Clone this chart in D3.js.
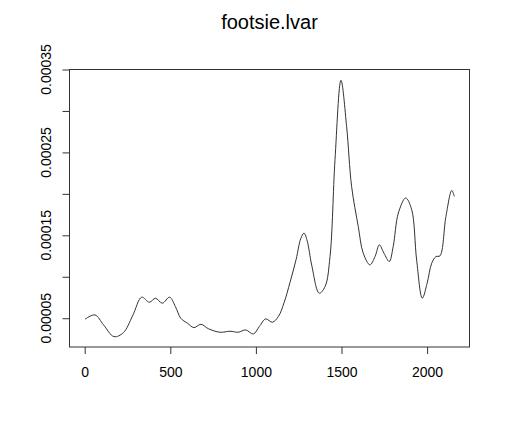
<!DOCTYPE html>
<html>
<head>
<meta charset="utf-8">
<script src="https://cdn.jsdelivr.net/npm/d3@7"></script>
<style>
  body { margin: 0; background: #fff; }
  text { font-family: "Liberation Sans", Arial, sans-serif; }
</style>
</head>
<body>
<svg id="chart" width="505" height="433"></svg>
<script>
const title = 'footsie.lvar'

// index along the series and the local variance
const idx = [2, 60, 110, 171, 226, 280, 333, 377, 414, 453, 496, 530, 561, 600, 638, 679, 722, 790, 849, 897, 940, 985, 1020, 1057, 1096, 1131, 1165, 1199, 1235, 1262, 1281, 1300, 1326, 1370, 1404, 1433, 1462, 1497, 1530, 1559, 1598, 1627, 1666, 1696, 1721, 1748, 1779, 1802, 1832, 1875, 1910, 1939, 1972, 2000, 2027, 2052, 2075, 2110, 2144, 2159]
const lvar = [4.88e-5, 5.4e-5, 4.2e-5, 2.78e-5, 3.26e-5, 5.3e-5, 7.54e-5, 6.93e-5, 7.41e-5, 6.81e-5, 7.54e-5, 6.4e-5, 5.0e-5, 4.4e-5, 3.87e-5, 4.27e-5, 3.74e-5, 3.31e-5, 3.43e-5, 3.31e-5, 3.59e-5, 3.1e-5, 4.0e-5, 4.92e-5, 4.52e-5, 5.19e-5, 6.9e-5, 9.3e-5, 12.1e-5, 14.6e-5, 15.27e-5, 14.3e-5, 11.4e-5, 8.02e-5, 8.82e-5, 12.44e-5, 24.1e-5, 33.7e-5, 28.1e-5, 20.9e-5, 16.06e-5, 12.85e-5, 11.44e-5, 12.44e-5, 13.85e-5, 12.85e-5, 11.84e-5, 13.65e-5, 17.68e-5, 19.5e-5, 18.1e-5, 12.0e-5, 7.42e-5, 9.2e-5, 11.64e-5, 12.44e-5, 12.52e-5, 17.27e-5, 20.41e-5, 19.69e-5]

const xTicks = [0, 500, 1000, 1500, 2000]
const yTicks = [0.00005, 0.0001, 0.00015, 0.0002, 0.00025, 0.0003, 0.00035]
const yLabels = [0.00005, 0.00015, 0.00025, 0.00035]

const data = idx.map((d, i) => ({ x: d, y: lvar[i] }))

const box = { left: 69.5, right: 469.5, top: 69.5, bottom: 347 }
const ink = '#333'

const x = d3.scaleLinear().domain([-88.8, 2247.7]).range([box.left, box.right])
const y = d3.scaleLinear().domain([0.0000153, 0.000350]).range([box.bottom, box.top])

const svg = d3.select('#chart')

svg.append('text')
  .attr('x', (box.left + box.right) / 2)
  .attr('y', 29)
  .attr('text-anchor', 'middle')
  .attr('font-size', 20)
  .attr('fill', '#000')
  .text(title)

const line = d3.line()
  .x((d) => x(d.x))
  .y((d) => y(d.y))
  .curve(d3.curveCatmullRom.alpha(0.5))

svg.append('path')
  .datum(data)
  .attr('d', line)
  .attr('fill', 'none')
  .attr('stroke', ink)
  .attr('stroke-width', 1)

svg.append('rect')
  .attr('x', box.left)
  .attr('y', box.top)
  .attr('width', box.right - box.left)
  .attr('height', box.bottom - box.top)
  .attr('fill', 'none')
  .attr('stroke', ink)

// x axis
const xAxis = d3.axisBottom(x)
  .tickValues(xTicks)
  .tickSize(7)
  .tickPadding(13)
  .tickFormat(d3.format('d'))
svg.append('g')
  .attr('transform', `translate(0, ${box.bottom})`)
  .call(xAxis)
  .call((g) => g.select('.domain').remove())
  .call((g) => g.selectAll('line').attr('stroke', ink))
  .call((g) => g.selectAll('text').attr('font-size', 14).attr('fill', '#000')
    .attr('font-family', '"Liberation Sans", Arial, sans-serif'))

// y axis, labels rotated like R's default
const yAxis = d3.axisLeft(y)
  .tickValues(yTicks)
  .tickSize(7)
  .tickFormat('')
svg.append('g')
  .attr('transform', `translate(${box.left}, 0)`)
  .call(yAxis)
  .call((g) => g.select('.domain').remove())
  .call((g) => g.selectAll('line').attr('stroke', ink))

svg.append('g')
  .selectAll('text')
  .data(yLabels)
  .join('text')
  .attr('transform', (d) => `translate(50.5, ${y(d)}) rotate(-90)`)
  .attr('text-anchor', 'middle')
  .attr('font-size', 14)
  .attr('fill', '#000')
  .text((d) => d3.format('.5f')(d))
</script>
</body>
</html>
